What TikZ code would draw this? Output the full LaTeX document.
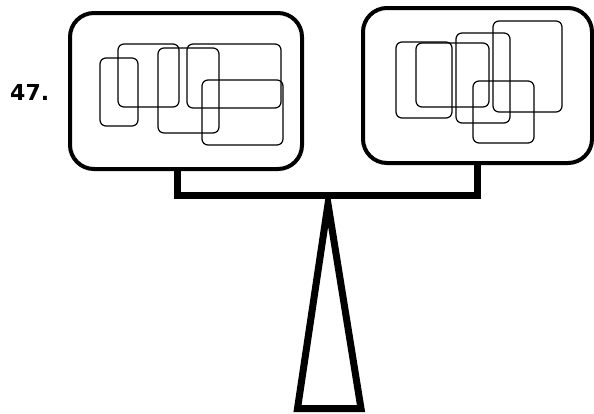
\documentclass[tikz,border=0pt]{standalone}
\usepackage{fontspec}
\setmainfont{DejaVu Sans}
\begin{document}
\begin{tikzpicture}[x=1pt,y=-1pt,
  pan/.style={draw=black,line width=4pt,rounded corners=24pt,inner sep=0pt},
  item/.style={draw=black,line width=1.2pt,rounded corners=6pt},
  stand/.style={draw=black,line width=7pt,line join=miter}]
\useasboundingbox (0,0) rectangle (594,413);
\node[anchor=base west,font=\bfseries\fontsize{22}{22}\selectfont,inner sep=0pt] (lbl) at (10,100) {47.};
% pans
\draw[pan] (70,13) rectangle (302,169);
\coordinate (lpanb) at (177,169);
\draw[pan] (363,8) rectangle (592,163);
\coordinate (rpanb) at (477,163);
% items left pan
\draw[item] (100,58) rectangle (138,126);
\draw[item] (118,44) rectangle (179,107);
\draw[item] (158,48) rectangle (219,133);
\draw[item] (187,44) rectangle (281,108);
\draw[item] (202,80) rectangle (283,145);
% items right pan
\draw[item] (396,42) rectangle (452,118);
\draw[item] (416,43) rectangle (489,107);
\draw[item] (456,33) rectangle (510,123);
\draw[item] (493,21) rectangle (562,112);
\draw[item] (473,81) rectangle (534,143);
% beam
\coordinate (bl) at (177,195.5);
\coordinate (br) at (477,195.5);
\draw[stand] (lpanb) -- (bl) -- (br) -- (rpanb);
% post
\coordinate (apex) at (328,204);
\coordinate (basel) at (297.5,408.5);
\coordinate (baser) at (361,408.5);
\begin{scope}
\clip (0,195) rectangle (594,413);
\draw[stand] (apex) -- (basel) -- (baser) -- cycle;
\end{scope}
\end{tikzpicture}
\end{document}
